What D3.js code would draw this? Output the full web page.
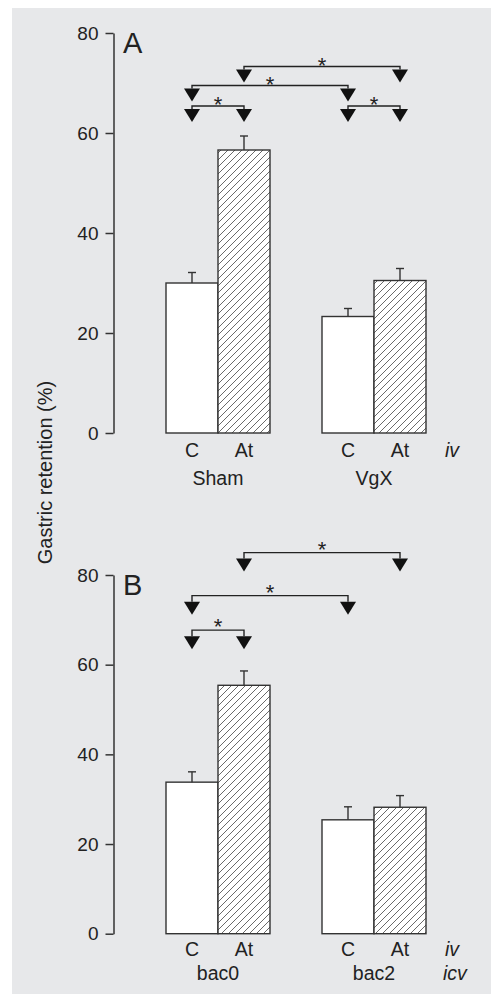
<!DOCTYPE html>
<html>
<head>
<meta charset="utf-8">
<script src="https://cdn.jsdelivr.net/npm/d3@7/dist/d3.min.js"></script>
<style>
  html, body { margin: 0; padding: 0; background: #fff; }
  svg { display: block; font-family: "Liberation Sans", Arial, Helvetica, sans-serif; }
  .tick text { font-size: 19px; fill: #222; }
  .tick line, .domain { stroke: #333; stroke-width: 1.5; }
</style>
</head>
<body>
<svg id="chart" width="491" height="996"></svg>
<script>
const TREATMENTS = ["C", "At"];
const Y_TICKS = [0, 20, 40, 60, 80];

// panel A: surgery groups
const GROUPS_A = ["Sham", "VgX"];
const MEAN_A = [[30.0, 56.6], [23.3, 30.5]];
const SEM_A = [[2.1, 2.8], [1.6, 2.4]];
const SIG_A = [
  { a: ["Sham", "C"], b: ["Sham", "At"], level: 65.4 },
  { a: ["Sham", "C"], b: ["VgX", "C"], level: 69.5 },
  { a: ["Sham", "At"], b: ["VgX", "At"], level: 73.3 },
  { a: ["VgX", "C"], b: ["VgX", "At"], level: 65.4 },
];

// panel B: icv groups
const GROUPS_B = ["bac0", "bac2"];
const MEAN_B = [[33.8, 55.4], [25.4, 28.2]];
const SEM_B = [[2.3, 3.2], [2.9, 2.6]];
const SIG_B = [
  { a: ["bac0", "C"], b: ["bac0", "At"], level: 67.7 },
  { a: ["bac0", "C"], b: ["bac2", "C"], level: 75.4 },
  { a: ["bac0", "At"], b: ["bac2", "At"], level: 85.0 },
];

const svg = d3.select("#chart");

svg.append("rect")
  .attr("x", 12).attr("y", 8)
  .attr("width", 491 - 12).attr("height", 996 - 8 - 2)
  .attr("fill", "#e7e8ea");

const defs = svg.append("defs");
const hatch = defs.append("pattern")
  .attr("id", "hatch")
  .attr("patternUnits", "userSpaceOnUse")
  .attr("width", 7).attr("height", 7);
hatch.append("rect").attr("width", 7).attr("height", 7).attr("fill", "#fff");
hatch.append("path")
  .attr("d", "M-1,1 l2,-2 M0,7 l7,-7 M6,8 l2,-2")
  .attr("stroke", "#444")
  .attr("stroke-width", 0.8);

function drawPanel(opts) {
  const { groups, means, sems, sigs, y0, y80, letter, stem, starGap, row1, row2, extra } = opts;
  const y = d3.scaleLinear().domain([0, 80]).range([y0, y80]);
  const x = d3.scaleBand().domain(groups).range([166, 426]).paddingInner(1 / 3).paddingOuter(0);
  const xi = d3.scaleBand().domain(TREATMENTS).range([0, x.bandwidth()]).padding(0);
  const cx = (g, t) => x(g) + xi(t) + xi.bandwidth() / 2;

  const g = svg.append("g");

  g.append("g")
    .attr("transform", "translate(113.5,0)")
    .call(d3.axisLeft(y).tickValues(Y_TICKS).tickSize(8).tickPadding(7).tickSizeOuter(0));

  g.append("text")
    .attr("x", 123).attr("y", y(80) + 20)
    .attr("font-size", 29).attr("fill", "#222")
    .text(letter);

  const rows = [];
  groups.forEach((grp, gi) => {
    TREATMENTS.forEach((t, ti) => rows.push({ grp, t, ti, mean: means[gi][ti], sem: sems[gi][ti] }));
  });

  g.selectAll("rect.bar")
    .data(rows)
    .join("rect")
    .attr("class", "bar")
    .attr("x", d => x(d.grp) + xi(d.t))
    .attr("y", d => y(d.mean))
    .attr("width", xi.bandwidth())
    .attr("height", d => y(0) - y(d.mean))
    .attr("fill", d => d.ti ? "url(#hatch)" : "#fff")
    .attr("stroke", "#333")
    .attr("stroke-width", 1.4);

  const err = g.selectAll("g.err").data(rows).join("g").attr("class", "err")
    .attr("stroke", "#333").attr("stroke-width", 1.4);
  err.append("line")
    .attr("x1", d => cx(d.grp, d.t)).attr("x2", d => cx(d.grp, d.t))
    .attr("y1", d => y(d.mean)).attr("y2", d => y(d.mean + d.sem));
  err.append("line")
    .attr("x1", d => cx(d.grp, d.t) - 4).attr("x2", d => cx(d.grp, d.t) + 4)
    .attr("y1", d => y(d.mean + d.sem)).attr("y2", d => y(d.mean + d.sem));

  // significance brackets
  const tri = (px, top) => `M${px - 8},${top} L${px + 8},${top} L${px},${top + 13} Z`;
  sigs.forEach(s => {
    const xa = cx(s.a[0], s.a[1]);
    const xb = cx(s.b[0], s.b[1]);
    const ly = y(s.level);
    g.append("path")
      .attr("d", `M${xa},${ly + stem} V${ly} H${xb} V${ly + stem}`)
      .attr("fill", "none").attr("stroke", "#222").attr("stroke-width", 1.4);
    g.append("path").attr("d", tri(xa, ly + stem)).attr("fill", "#111");
    g.append("path").attr("d", tri(xb, ly + stem)).attr("fill", "#111");
    g.append("text")
      .attr("x", (xa + xb) / 2).attr("y", ly - starGap + 12.8)
      .attr("text-anchor", "middle").attr("font-size", 22).attr("fill", "#222")
      .text("*");
  });

  // category labels
  rows.forEach(d => {
    g.append("text")
      .attr("x", cx(d.grp, d.t)).attr("y", y(0) + row1)
      .attr("text-anchor", "middle").attr("font-size", 19.5).attr("fill", "#222")
      .text(d.t);
  });
  groups.forEach(grp => {
    g.append("text")
      .attr("x", x(grp) + x.bandwidth() / 2).attr("y", y(0) + row2)
      .attr("text-anchor", "middle").attr("font-size", 19.5).attr("fill", "#222")
      .text(grp);
  });
  g.append("text")
    .attr("x", 445).attr("y", y(0) + row1)
    .attr("font-size", 19.5).attr("font-style", "italic").attr("fill", "#222")
    .text("iv");
  if (extra) {
    g.append("text")
      .attr("x", 443).attr("y", y(0) + row2)
      .attr("font-size", 19.5).attr("font-style", "italic").attr("fill", "#222")
      .text(extra);
  }
}

drawPanel({ groups: GROUPS_A, means: MEAN_A, sems: SEM_A, sigs: SIG_A, y0: 433, y80: 33,
  letter: "A", stem: 3, starGap: 6.7, row1: 24, row2: 52 });
drawPanel({ groups: GROUPS_B, means: MEAN_B, sems: SEM_B, sigs: SIG_B, y0: 933.7, y80: 575,
  letter: "B", stem: 6, starGap: 8.7, row1: 22.5, row2: 46, extra: "icv" });

svg.append("text")
  .attr("transform", "translate(52,472.5) rotate(-90)")
  .attr("text-anchor", "middle")
  .attr("font-size", 20).attr("fill", "#222")
  .text("Gastric retention (%)");
</script>
</body>
</html>
